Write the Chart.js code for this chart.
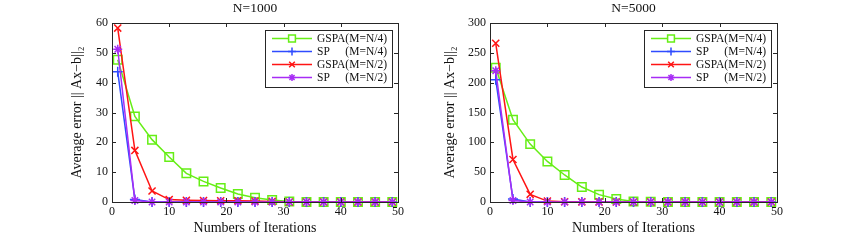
<!DOCTYPE html>
<html>
<head>
<meta charset="utf-8">
<script src="https://cdn.jsdelivr.net/npm/chart.js@4"></script>
<style>
  html, body { margin: 0; padding: 0; background: #fff; }
  #wrap { position: relative; width: 858px; height: 240px; overflow: hidden; }
  canvas { position: absolute; top: 0; }
</style>
</head>
<body>
<div id="wrap">
  <canvas id="chartLeft" width="429" height="240" style="left:0"></canvas>
  <canvas id="chartRight" width="429" height="240" style="left:429px"></canvas>
</div>
<script>
/* Two MATLAB-style convergence plots: average error vs. iterations. */

const iterations = [1, 4, 7, 10, 13, 16, 19, 22, 25, 28, 31, 34, 37, 40, 43, 46, 49];
const seriesLabels = ['GSPA(M=N/4)', 'SP(M=N/4)', 'GSPA(M=N/2)', 'SP(M=N/2)'];

// N=1000
const gspaQuarter1000 = [47.7, 28.7, 20.9, 15.1, 9.6, 6.9, 4.7, 2.7, 1.4, 0.7, 0.2, 0, 0, 0, 0, 0, 0];
const spQuarter1000   = [43.7, 0.8, 0, 0, 0, 0, 0, 0, 0, 0, 0, 0, 0, 0, 0, 0, 0];
const gspaHalf1000    = [58.3, 17.3, 3.7, 0.8, 0.6, 0.5, 0.4, 0.4, 0.3, 0.2, 0, 0, 0, 0, 0, 0, 0];
const spHalf1000      = [51.2, 0.5, 0, 0, 0, 0, 0, 0, 0, 0, 0, 0, 0, 0, 0, 0, 0];

// N=5000
const gspaQuarter5000 = [225, 138, 97, 68, 45.3, 25.1, 12.3, 5, 1, 0.3, 0, 0, 0, 0, 0, 0, 0];
const spQuarter5000   = [205, 5, 0, 0, 0, 0, 0, 0, 0, 0, 0, 0, 0, 0, 0, 0, 0];
const gspaHalf5000    = [266, 71.3, 12.8, 1.5, 0.5, 0.3, 0.2, 0, 0, 0, 0, 0, 0, 0, 0, 0, 0];
const spHalf5000      = [220, 2.5, 0, 0, 0, 0, 0, 0, 0, 0, 0, 0, 0, 0, 0, 0, 0];

const xTicksMax = 50, xTickStep = 10;

const SERIF = '"Liberation Serif", "Times New Roman", "DejaVu Serif", serif';
const COLORS = ['#66ee16', '#2f4bff', '#ff1414', '#a72cf5'];
const MARKERS = [
  { style: 'rect', radius: 6 },
  { style: 'cross', radius: 5 },
  { style: 'crossRot', radius: 5 },
  { style: 'star', radius: 4.5 },
];

Chart.defaults.font.family = SERIF;
Chart.defaults.color = '#111';

/** Box round the plot with inward ticks on all four sides. */
const matlabBox = {
  id: 'matlabBox',
  afterDraw(chart) {
    const { ctx, chartArea: a, scales } = chart;
    ctx.save();
    ctx.strokeStyle = '#262626';
    ctx.lineWidth = 1;
    ctx.beginPath();
    scales.x.ticks.forEach((t) => {
      const px = Math.round(scales.x.getPixelForValue(t.value)) + 0.5;
      ctx.moveTo(px, a.bottom); ctx.lineTo(px, a.bottom - 4);
      ctx.moveTo(px, a.top); ctx.lineTo(px, a.top + 4);
    });
    scales.y.ticks.forEach((t) => {
      const py = Math.round(scales.y.getPixelForValue(t.value)) + 0.5;
      ctx.moveTo(a.left, py); ctx.lineTo(a.left + 4, py);
      ctx.moveTo(a.right, py); ctx.lineTo(a.right - 4, py);
    });
    ctx.stroke();
    ctx.strokeRect(Math.round(a.left) + 0.5, Math.round(a.top) + 0.5,
      Math.round(a.right - a.left), Math.round(a.bottom - a.top));
    ctx.restore();
  },
};

/** Legend box in the top-right corner: line sample + marker + label. */
const boxLegend = {
  id: 'boxLegend',
  afterDatasetsDraw(chart) {
    const { ctx, chartArea: a } = chart;
    const w = 127, h = 57;
    const left = a.right - 6 - w, top = a.top + 6.5;
    ctx.save();
    ctx.fillStyle = '#fff';
    ctx.fillRect(left, top, w, h);
    ctx.strokeStyle = '#262626';
    ctx.lineWidth = 1;
    ctx.strokeRect(Math.round(left) + 0.5, Math.round(top) + 0.5, w, h);
    ctx.font = '11.5px ' + SERIF;
    ctx.textBaseline = 'middle';
    ctx.textAlign = 'left';
    const prefixW = ctx.measureText('GSPA').width;
    chart.data.datasets.forEach((ds, i) => {
      const y = top + 9 + i * 13;
      ctx.strokeStyle = ds.borderColor;
      ctx.lineWidth = 1.5;
      ctx.beginPath();
      ctx.moveTo(left + 7, y); ctx.lineTo(left + 47, y);
      ctx.stroke();
      Chart.helpers.drawPoint(ctx, {
        pointStyle: ds.pointStyle, radius: ds.pointRadius * 0.8,
        borderWidth: 1.5, rotation: 0,
      }, left + 27, y);
      ctx.fillStyle = '#111';
      const cut = ds.label.indexOf('(');
      const name = ds.label.slice(0, cut), rest = ds.label.slice(cut);
      ctx.fillText(name, left + 52, y);
      ctx.fillText(rest, left + 52 + prefixW, y);
    });
    ctx.restore();
  },
};

function buildDatasets(seriesValues) {
  return seriesValues.map((values, i) => ({
    label: seriesLabels[i],
    data: iterations.map((it, k) => ({ x: it, y: values[k] })),
    borderColor: COLORS[i],
    backgroundColor: COLORS[i],
    borderWidth: 1.5,
    pointStyle: MARKERS[i].style,
    pointRadius: MARKERS[i].radius,
    pointBorderWidth: 1.5,
    pointBorderColor: COLORS[i],
    pointBackgroundColor: 'rgba(0,0,0,0)',
    tension: 0,
    clip: false,
    order: 3 - i,
  }));
}

function makeChart(id, titleText, seriesValues, yMax, yStep, cfg) {
  const tickFont = { family: SERIF, size: 12 };
  const labelFont = { family: SERIF, size: 14 };
  return new Chart(document.getElementById(id), {
    type: 'line',
    data: { datasets: buildDatasets(seriesValues) },
    options: {
      responsive: false,
      animation: false,
      events: [],
      layout: { padding: { left: 0, right: cfg.padRight, top: 0, bottom: 0 } },
      plugins: {
        legend: { display: false },
        tooltip: { enabled: false },
        title: {
          display: true, text: titleText, fullSize: false, color: '#111',
          font: { family: SERIF, size: 13.5, weight: 'normal' },
          padding: { top: 0.5, bottom: 6.3 },
        },
      },
      scales: {
        x: {
          type: 'linear', min: 0, max: xTicksMax,
          ticks: { stepSize: xTickStep, font: tickFont, color: '#111', padding: 3, maxRotation: 0 },
          grid: { display: false, drawTicks: false },
          border: { display: false },
          title: { display: true, text: 'Numbers of Iterations', font: labelFont, color: '#111', padding: { top: 3.6, bottom: 3.6 } },
          afterFit: (s) => { s.height = 38; },
        },
        y: {
          type: 'linear', min: 0, max: yMax,
          ticks: { stepSize: yStep, font: tickFont, color: '#111', padding: 4 },
          grid: { display: false, drawTicks: false },
          border: { display: false },
          title: { display: true, text: 'Average error || Ax\u2212b||\u2082', font: labelFont, color: '#111', padding: { top: cfg.yTitlePad, bottom: cfg.yTitlePad } },
          afterFit: (s) => { s.width = cfg.yWidth; },
        },
      },
    },
    plugins: [matlabBox, boxLegend],
  });
}

makeChart('chartLeft', 'N=1000',
  [gspaQuarter1000, spQuarter1000, gspaHalf1000, spHalf1000], 60, 10,
  { padRight: 31, yWidth: 112, yTitlePad: 68.6 });

makeChart('chartRight', 'N=5000',
  [gspaQuarter5000, spQuarter5000, gspaHalf5000, spHalf5000], 300, 50,
  { padRight: 81, yWidth: 61, yTitlePad: 13.3 });
</script>
</body>
</html>
